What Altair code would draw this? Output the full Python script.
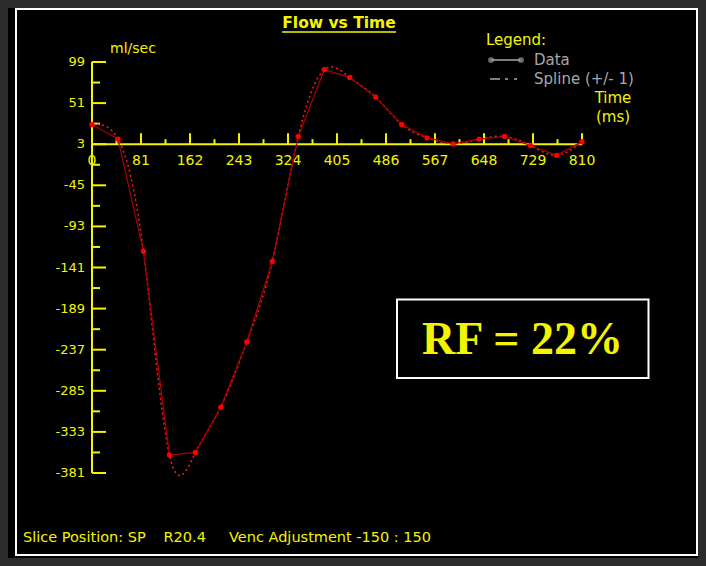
import altair as alt
import pandas as pd

# ---- data ----
times = [0, 43, 85, 128, 171, 213, 256, 298, 341, 384, 426, 469, 512, 554, 597, 640, 682, 725, 768, 810]
flow = [26, 9, -122, -360, -357, -304, -228, -134, 12, 90, 81, 58, 26, 10.5, 3.5, 9, 12, 1.5, -10, 6]

x_major = [81, 162, 243, 324, 405, 486, 567, 648, 729, 810]
x_minor = [40.5, 121.5, 202.5, 283.5, 364.5, 445.5, 526.5, 607.5, 688.5, 769.5]
x_labels = ["0", "81", "162", "243", "324", "405", "486", "567", "648", "729", "810"]
x_label_pos = [0, 81, 162, 243, 324, 405, 486, 567, 648, 729, 810]

y_major = [99, 51, 3, -45, -93, -141, -189, -237, -285, -333, -381]
y_minor = [75, 27, -21, -69, -117, -165, -213, -261, -309, -357]
y_labels = ["99", "51", "3", "-45", "-93", "-141", "-189", "-237", "-285", "-333", "-381"]

YEL = "#f4f400"
GRAY = "#a8a8a8"
FONT = "DejaVu Sans"

xs = alt.Scale(domain=[0, 810], nice=False, zero=False)
ys = alt.Scale(domain=[-381, 99], nice=False, zero=False)


def X(f):
    return alt.X(f, type="quantitative", scale=xs, axis=None)


def Y(f):
    return alt.Y(f, type="quantitative", scale=ys, axis=None)


df = pd.DataFrame({"t": times, "flow": flow})

# axes built from marks
yaxis = alt.Chart(pd.DataFrame({"x0": [0], "top": [99], "bot": [-381]})).mark_rule(
    color=YEL, strokeWidth=2).encode(x=X("x0"), y=Y("top"), y2="bot")
xaxis = alt.Chart(pd.DataFrame({"l": [0], "r": [810], "y0": [3]})).mark_rule(
    color=YEL, strokeWidth=2).encode(x=X("l"), x2="r", y=Y("y0"))

ymaj = alt.Chart(pd.DataFrame({"v": y_major, "x0": [0] * len(y_major)})).mark_rule(
    color=YEL, strokeWidth=2, x2Offset=14).encode(x=X("x0"), x2="x0", y=Y("v"))
ymin = alt.Chart(pd.DataFrame({"v": y_minor, "x0": [0] * len(y_minor)})).mark_rule(
    color=YEL, strokeWidth=2, x2Offset=8).encode(x=X("x0"), x2="x0", y=Y("v"))
xmaj = alt.Chart(pd.DataFrame({"v": x_major, "y0": [3] * len(x_major)})).mark_rule(
    color=YEL, strokeWidth=2, y2Offset=-11).encode(x=X("v"), y=Y("y0"), y2="y0")
xmin = alt.Chart(pd.DataFrame({"v": x_minor, "y0": [3] * len(x_minor)})).mark_rule(
    color=YEL, strokeWidth=2, y2Offset=-5).encode(x=X("v"), y=Y("y0"), y2="y0")

xlab = alt.Chart(pd.DataFrame({"v": x_label_pos, "y0": [3] * len(x_label_pos), "lab": x_labels})).mark_text(
    color=YEL, font=FONT, fontSize=14, dy=17, align="center", baseline="middle").encode(
    x=X("v"), y=Y("y0"), text="lab")
ylab = alt.Chart(pd.DataFrame({"v": y_major, "x0": [0] * len(y_major), "lab": y_labels})).mark_text(
    color=YEL, font=FONT, fontSize=13, dx=-7, align="right", baseline="middle").encode(
    x=X("x0"), y=Y("v"), text="lab")

# data series
spline = alt.Chart(df).mark_line(color="#ff1a1a", strokeWidth=1.5, strokeDash=[2, 3],
                                 interpolate="natural").encode(x=X("t"), y=Y("flow"))
line = alt.Chart(df).mark_line(color="#b00000", strokeWidth=1.2).encode(x=X("t"), y=Y("flow"))
pts = alt.Chart(df).mark_circle(color="#ff0000", size=28, opacity=1).encode(x=X("t"), y=Y("flow"))

# annotations (pixel positions relative to plot area)
one = pd.DataFrame({"a": [0]})


def txt(s, x, y, size, color=YEL, align="left", weight="normal", font=FONT):
    return alt.Chart(one).mark_text(text=s, color=color, fontSize=size, align=align,
                                    baseline="middle", fontWeight=weight, font=font).encode(
        x=alt.value(x), y=alt.value(y))


def prule(x1, x2, y1, y2, color, width=1, dash=None):
    kw = dict(color=color, strokeWidth=width)
    if dash:
        kw["strokeDash"] = dash
    return alt.Chart(one).mark_rule(**kw).encode(
        x=alt.value(x1), x2=alt.value(x2), y=alt.value(y1), y2=alt.value(y2))


frame = alt.Chart(one).mark_rect(fill="black", fillOpacity=0, stroke="white", strokeWidth=2).encode(
    x=alt.value(-76), x2=alt.value(605), y=alt.value(-53), y2=alt.value(493))

title = txt("Flow vs Time", 247, -39, 15.5, align="center", weight="bold")
title_ul = prule(190, 304, -30, -30, YEL, 1.5)
unit = txt("ml/sec", 18, -13, 14)
leg = txt("Legend:", 394, -22, 15)
leg_data_line = prule(398, 430, -2, -2, GRAY, 1.5)
leg_data_pts = alt.Chart(pd.DataFrame({"px": [399, 429]})).mark_point(
    color=GRAY, filled=False, size=18, strokeWidth=1.5).encode(
    x=alt.X("px:Q", scale=None, axis=None), y=alt.value(-2))
leg_data_txt = txt("Data", 442, -2, 15, color=GRAY)
leg_spl_line = prule(398, 432, 17, 17, GRAY, 1.5, dash=[10, 5, 3, 6, 3, 20])
leg_spl_txt = txt("Spline (+/- 1)", 442, 17, 15, color=GRAY)
time1 = txt("Time", 521, 36, 15, align="center")
time2 = txt("(ms)", 521, 55, 15, align="center")

rf_box = alt.Chart(one).mark_rect(fill="black", stroke="white", strokeWidth=2).encode(
    x=alt.value(305), x2=alt.value(556.5), y=alt.value(237.5), y2=alt.value(316))
rf_txt = txt("RF = 22%", 430.5, 278, 46, align="center", weight="bold", font="Liberation Serif")

foot1 = txt("Slice Position: SP", -69, 476, 14.5)
foot2 = txt("R20.4", 71.5, 476, 14.5)
foot3 = txt("Venc Adjustment -150 : 150", 137, 476, 14.5)

chart = alt.layer(
    frame, yaxis, xaxis, ymaj, ymin, xmaj, xmin, xlab, ylab,
    spline, line, pts,
    title, title_ul, unit, leg, leg_data_line, leg_data_pts, leg_data_txt,
    leg_spl_line, leg_spl_txt, time1, time2, rf_box, rf_txt, foot1, foot2, foot3,
).properties(
    width=490, height=411,
    background="black",
    padding={"left": 84, "top": 54, "right": 116, "bottom": 85},
    autosize=alt.AutoSizeParams(type="none"),
).configure_view(stroke=None)

# page background behind the 8px margin
try:
    from altair.utils import html as _h
    _std = _h.TEMPLATES["standard"]

    class _Tpl:
        def render(self, **kw):
            return _std.render(**kw).replace(
                "<head>", "<head>\n<style>body{background:#2c2c2c;}</style>", 1)

    chart.save("out.html", embed_options={"renderer": "svg", "actions": False}, template=_Tpl())
except Exception:
    chart.save("out.html", embed_options={"renderer": "svg", "actions": False})
